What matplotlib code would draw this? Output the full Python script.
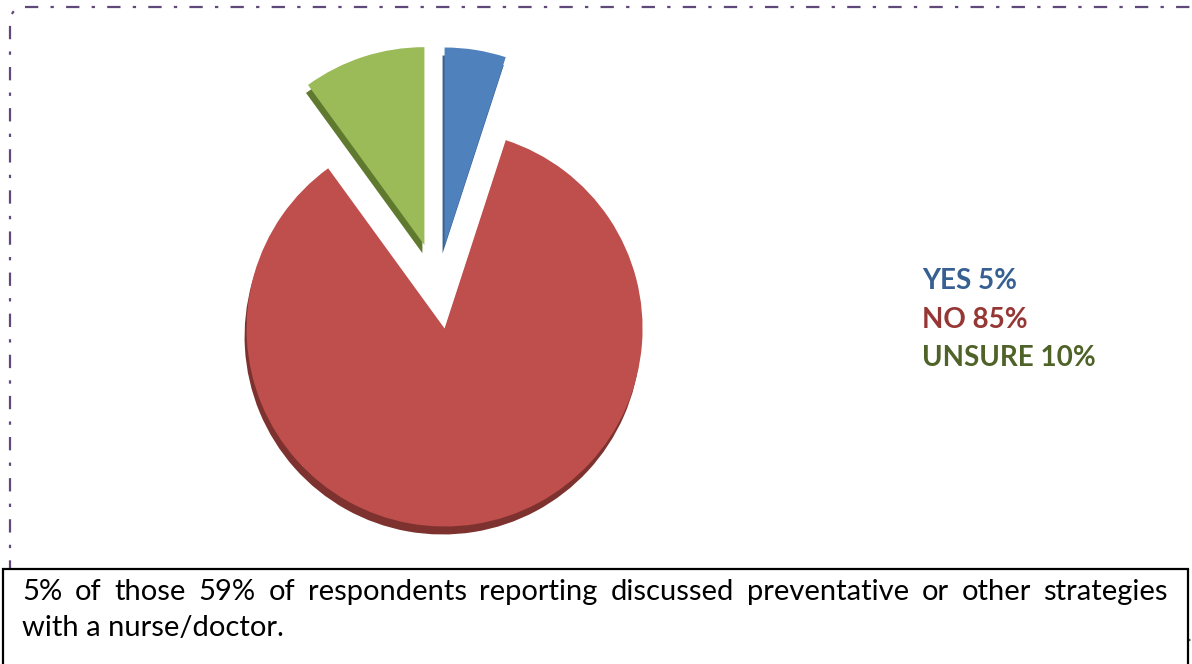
import matplotlib
matplotlib.use("Agg")
import matplotlib.pyplot as plt
from matplotlib.patches import FancyBboxPatch, Rectangle

W, H = 1192, 664

labels = ["YES", "NO", "UNSURE"]
shares = [5, 85, 10]
colors = ["#4F81BD", "#BE4F4C", "#9BBB59"]
edge_colors = ["#3A618F", "#7E3230", "#5F7A2F"]
text_colors = ["#376092", "#953735", "#4F6228"]
caption_words = "5% of those 59% of respondents reporting discussed preventative or other strategies".split()
caption_line2 = "with a nurse/doctor."


def Y(py):
    # pixel rows counted from the top
    return H - py


fig = plt.figure(figsize=(W / 100, H / 100), dpi=100)
ax = fig.add_axes([0, 0, 1, 1])

# dash-dot rounded frame (right edge runs just off the canvas)
frame = FancyBboxPatch((10, Y(640)), 1196, 633,
                       boxstyle="round,pad=0,rounding_size=16",
                       fill=False, edgecolor="#5F497A", linewidth=1.6,
                       linestyle=(0, (6, 5.5, 1.5, 5.5)), zorder=1)
ax.add_patch(frame)

# exploded pie with a darker copy underneath for depth
center = (438, Y(287))
radius = 198
explode = [42, 42, 44]
ax.pie(shares, colors=edge_colors, startangle=90, counterclock=False,
       explode=explode, radius=radius, center=(center[0] - 2, center[1] - 8),
       frame=True, wedgeprops=dict(linewidth=0, zorder=2))
ax.pie(shares, colors=colors, startangle=90, counterclock=False,
       explode=explode, radius=radius, center=center,
       frame=True, wedgeprops=dict(linewidth=0, zorder=3))
ax.set_xlim(0, W)
ax.set_ylim(0, H)
ax.set_aspect("auto")
ax.axis("off")

# legend text
for i, (lab, v, c) in enumerate(zip(labels, shares, text_colors)):
    ax.text(922, Y(281 + 38.5 * i), f"{lab} {v}%", color=c, fontsize=20,
            fontweight="bold", family="Lato", va="center", ha="left", zorder=5)

# caption box
box = Rectangle((3, Y(700)), 1185, 131, facecolor="white", edgecolor="black",
                linewidth=1.6, zorder=6)
ax.add_patch(box)

# first caption line, justified between the box margins
fig.canvas.draw()
r = fig.canvas.get_renderer()
fs = 21
items = []
for w in caption_words:
    t = ax.text(0, Y(600), w, fontsize=fs, family="Lato", va="baseline",
                ha="left", zorder=7)
    items.append(t)
widths = [t.get_window_extent(r).width for t in items]
left, right = 22, 1168
gap = (right - left - sum(widths)) / (len(items) - 1)
x = left
for t, w in zip(items, widths):
    t.set_x(x)
    x += w + gap

ax.text(left, Y(636), caption_line2, fontsize=fs, family="Lato",
        va="baseline", ha="left", zorder=7)

fig.savefig("out.png", dpi=100)
